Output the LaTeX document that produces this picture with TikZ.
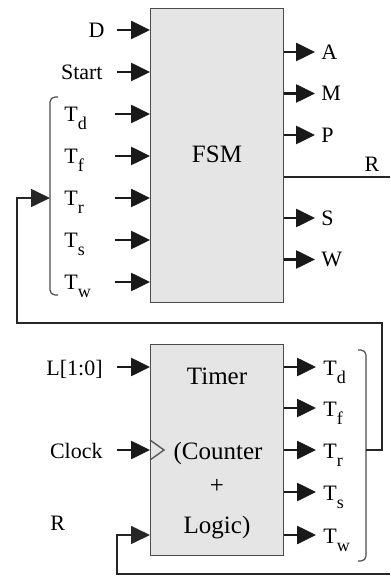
\documentclass[tikz,border=0pt]{standalone}
\usepackage{fontspec}
\setmainfont{Liberation Serif}
\usepackage{tikz}
\usetikzlibrary{arrows.meta, positioning, calc}
\newcommand{\tsub}[1]{T\raisebox{-4pt}{\fontsize{9}{9}\selectfont #1}}
\tikzset{
    unitblock/.style={rectangle, draw=black!70, line width=0.7pt, fill=gray!20, inner sep=0pt},
    boxtext/.style={font=\fontsize{12.5}{14}\selectfont, inner sep=0pt},
    sig/.style={font=\fontsize{11}{13}\selectfont, inner sep=0pt},
    arrow/.style={line width=1.3pt, -{Triangle[length=9.5pt, width=9pt]}, color=black!90},
    looparrow/.style={line width=0.8pt, -{Triangle[length=9.5pt, width=9pt]}, color=black!85},
    line/.style={line width=0.7pt, color=black!85},
    brace/.style={line width=0.6pt, color=black!70, rounded corners=2.5pt}
}

\begin{document}
\begin{tikzpicture}[x=0.5pt, y=-0.5pt]
    \useasboundingbox (0,0) rectangle (390,576);

    % Blocks
    \node (fsm) [unitblock, anchor=north west, minimum width=66.5pt, minimum height=147pt] at (150,8) {};
    \node (fsmText) [boxtext, anchor=base] at (217,163) {FSM};
    \node (timer) [unitblock, anchor=north west, minimum width=66.5pt, minimum height=105.5pt] at (150,344) {};
    \node (timerA) [boxtext, anchor=base] at (217,384) {Timer};
    \node (timerB) [boxtext, anchor=base] at (218,459) {(Counter};
    \node (timerC) [boxtext, anchor=base] at (217,493) {+};
    \node (timerD) [boxtext, anchor=base] at (217,533) {Logic)};

    % FSM inputs
    \coordinate (dIn) at (117,30);
    \coordinate (startIn) at (117,72);
    \coordinate (tdIn) at (115,114);
    \coordinate (tfIn) at (115,156);
    \coordinate (trIn) at (115,198);
    \coordinate (tsIn) at (115,240);
    \coordinate (twIn) at (115,282);
    \node (dLbl) [sig, anchor=base east] at (105,37.5) {D};
    \node (startLbl) [sig, anchor=base east] at (103,79.5) {Start};
    \node (tdLbl) [sig, anchor=base west] at (64,122) {\tsub{d}};
    \node (tfLbl) [sig, anchor=base west] at (64,164) {\tsub{f}};
    \node (trLbl) [sig, anchor=base west] at (64,206) {\tsub{r}};
    \node (tsLbl) [sig, anchor=base west] at (64,248) {\tsub{s}};
    \node (twLbl) [sig, anchor=base west] at (64,290) {\tsub{w}};

    % FSM outputs
    \coordinate (aOut) at (315,52);
    \coordinate (mOut) at (315,93.5);
    \coordinate (pOut) at (315,135);
    \coordinate (rOut) at (390,177);
    \coordinate (sOut) at (315,218);
    \coordinate (wOut) at (315,259.5);
    \node (aLbl) [sig, anchor=base west] at (321,59.5) {A};
    \node (mLbl) [sig, anchor=base west] at (321,101) {M};
    \node (pLbl) [sig, anchor=base west] at (321,142.5) {P};
    \node (rLbl) [sig, anchor=base] at (372,172) {R};
    \node (sLbl) [sig, anchor=base west] at (321,225.5) {S};
    \node (wLbl) [sig, anchor=base west] at (321,267) {W};

    % Timer inputs
    \coordinate (lIn) at (117,367);
    \coordinate (clkIn) at (117,450);
    \coordinate (rIn) at (117,535);
    \coordinate (rEdge) at (390,574);
    \node (lLbl) [sig, anchor=base east] at (103,375) {L[1:0]};
    \node (clkLbl) [sig, anchor=base east] at (103,458) {Clock};
    \node (rInLbl) [sig, anchor=base west] at (50,530) {R};

    % Timer outputs
    \coordinate (tdOut) at (316,367);
    \coordinate (tfOut) at (316,408);
    \coordinate (trOut) at (316,450);
    \coordinate (tsOut) at (316,492);
    \coordinate (twOut) at (316,535);
    \node (tdOutLbl) [sig, anchor=base west] at (323,375) {\tsub{d}};
    \node (tfOutLbl) [sig, anchor=base west] at (323,416) {\tsub{f}};
    \node (trOutLbl) [sig, anchor=base west] at (323,458) {\tsub{r}};
    \node (tsOutLbl) [sig, anchor=base west] at (323,500) {\tsub{s}};
    \node (twOutLbl) [sig, anchor=base west] at (323,543) {\tsub{w}};

    % Brackets and loop
    \coordinate (fbTop) at (58,97);
    \coordinate (fbMid) at (50,198);
    \coordinate (fbBot) at (58,295);
    \coordinate (tbTop) at (358,350);
    \coordinate (tbMid) at (366,450);
    \coordinate (tbBot) at (358,561);
    \coordinate (loopA) at (382,323);
    \coordinate (loopB) at (17,323);
    \draw [brace] (fbTop) -| (fbMid) |- (fbBot);
    \draw [brace] (tbTop) -| (tbMid) |- (tbBot);

    % Arrows
    \draw [arrow] (dIn) -- (dIn -| fsm.west);
    \draw [arrow] (startIn) -- (startIn -| fsm.west);
    \draw [arrow] (tdIn) -- (tdIn -| fsm.west);
    \draw [arrow] (tfIn) -- (tfIn -| fsm.west);
    \draw [arrow] (trIn) -- (trIn -| fsm.west);
    \draw [arrow] (tsIn) -- (tsIn -| fsm.west);
    \draw [arrow] (twIn) -- (twIn -| fsm.west);

    \draw [arrow] (aOut -| fsm.east) -- (aOut);
    \draw [arrow] (mOut -| fsm.east) -- (mOut);
    \draw [arrow] (pOut -| fsm.east) -- (pOut);
    \draw [line] (rOut -| fsm.east) -- (rOut);
    \draw [arrow] (sOut -| fsm.east) -- (sOut);
    \draw [arrow] (wOut -| fsm.east) -- (wOut);

    \draw [arrow] (lIn) -- (lIn -| timer.west);
    \draw [arrow] (clkIn) -- (clkIn -| timer.west);
    \draw [looparrow] (rEdge) -| (rIn) -- (rIn -| timer.west);
    \draw [line, draw=black!65] ($(timer.west |- clkIn)+(0,-10)$) -- ++(14,10) -- ++(-14,10);

    \draw [arrow] (tdOut -| timer.east) -- (tdOut);
    \draw [arrow] (tfOut -| timer.east) -- (tfOut);
    \draw [arrow] (trOut -| timer.east) -- (trOut);
    \draw [arrow] (tsOut -| timer.east) -- (tsOut);
    \draw [arrow] (twOut -| timer.east) -- (twOut);

    \draw [looparrow] (tbMid) -| (loopA) -- (loopB) |- (fbMid);
\end{tikzpicture}
\end{document}
